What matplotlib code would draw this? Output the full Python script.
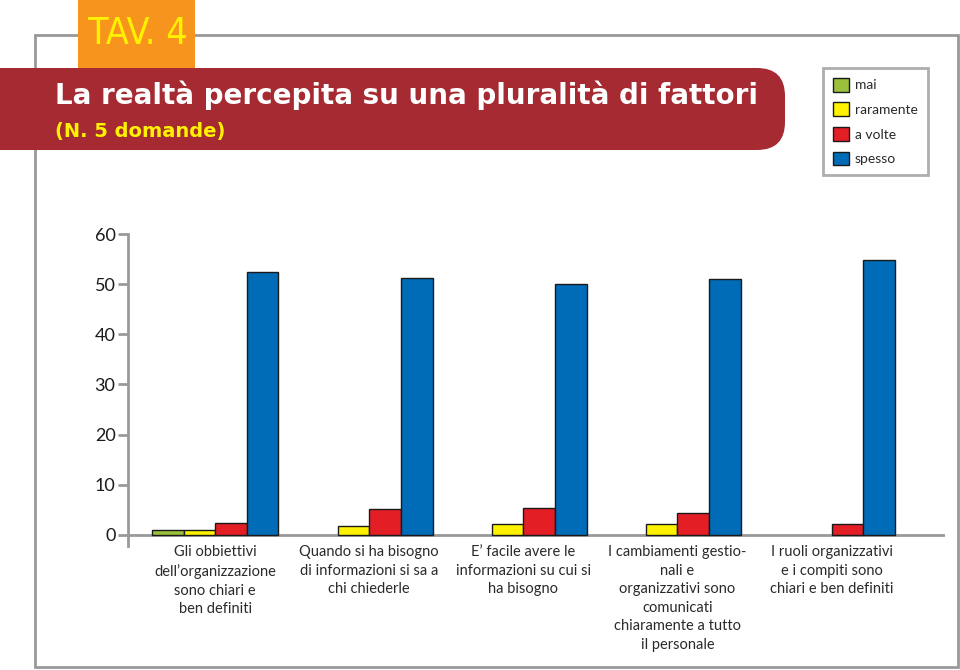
import matplotlib.pyplot as plt
import numpy as np
from matplotlib import font_manager as fm
from matplotlib.patches import Rectangle, FancyBboxPatch, Patch

# dati
categorie = [
    "Gli obbiettivi\ndell\u2019organizzazione\nsono chiari e\nben definiti",
    "Quando si ha bisogno\ndi informazioni si sa a\nchi chiederle",
    "E\u2019 facile avere le\ninformazioni su cui si\nha bisogno",
    "I cambiamenti gestio-\nnali e\norganizzativi sono\ncomunicati\nchiaramente a tutto\nil personale",
    "I ruoli organizzativi\ne i compiti sono\nchiari e ben definiti",
]
mai = [0.9, 0, 0, 0, 0]
raramente = [0.9, 1.8, 2.2, 2.2, 0]
a_volte = [2.3, 5.2, 5.3, 4.3, 2.2]
spesso = [52.5, 51.2, 50.0, 51.0, 54.8]

serie = ['mai', 'raramente', 'a volte', 'spesso']
colori = ['#9bc03c', '#fff200', '#e31e25', '#006cb7']
yticks = [0, 10, 20, 30, 40, 50, 60]

# cerca un font stretto per "TAV. 4"
stretto = None
for f in fm.fontManager.ttflist:
    nome = (f.name + ' ' + f.fname).lower()
    if ('narrow' in nome or 'condensed' in nome) and f.weight in (400, 'normal', 'regular') \
            and f.style == 'normal' and 'mono' not in nome and 'serif' not in f.name.lower():
        stretto = f.fname
        break

W, H = 960, 670
fig = plt.figure(figsize=(9.6, 6.7), dpi=100)

# sfondo in coordinate pixel
bg = fig.add_axes([0, 0, 1, 1], zorder=-1)
bg.set_xlim(0, W)
bg.set_ylim(H, 0)
bg.axis('off')

# cornice grigia
bg.add_patch(Rectangle((35, 35), 923, 632, fill=False, ec='#999999', lw=2))
# box TAV. 4
bg.add_patch(Rectangle((78, 0), 117, 68, fc='#f7941d', ec='none'))
if stretto:
    fp = fm.FontProperties(fname=stretto, size=27)
else:
    fp = fm.FontProperties(family='DejaVu Sans', size=22)
bg.text(138, 34, 'TAV. 4', color='#fff200', fontproperties=fp, ha='center', va='center')
# banda rossa
bg.add_patch(FancyBboxPatch((-60, 68), 845, 82, boxstyle='round,pad=0,rounding_size=28',
                            fc='#a52a32', ec='none'))
bg.text(55, 95, 'La realtà percepita su una pluralità di fattori', color='white',
        fontsize=20, fontweight='bold', va='center', ha='left')
bg.text(55, 132, '(N. 5 domande)', color='#fff200', fontsize=14, fontweight='bold',
        va='center', ha='left')

# grafico
ax = fig.add_axes([128 / W, 1 - 545.5 / H, (945 - 128) / W, (545.5 - 234) / H])
step = 4.875
x = np.arange(len(categorie)) * step
valori = [mai, raramente, a_volte, spesso]
for k, (vals, col) in enumerate(zip(valori, colori)):
    v = np.array(vals)
    m = v > 0
    ax.bar(x[m] + (k - 1.5), v[m], width=1.0, color=col, edgecolor='#1a1a1a', lw=1, zorder=3)

ax.set_xlim(-2.76, 23.09)
ax.set_ylim(-2.1, 60)
ax.axhline(0, color='#999999', lw=2, zorder=2)
for s in ['top', 'right', 'bottom']:
    ax.spines[s].set_visible(False)
ax.spines['left'].set_color('#999999')
ax.spines['left'].set_linewidth(2)
ax.set_yticks(yticks)
ax.tick_params(axis='y', length=7, width=2, color='#999999', labelsize=13,
               labelcolor='#1a1a1a', pad=2)
for t in ax.get_yticklabels():
    t.set_family('Lato')
ax.set_xticks([])
ax.patch.set_alpha(0)

for xi, lab in zip(x, categorie):
    ax.text(xi, -2.0, lab, ha='center', va='top', fontsize=10.5, color='#2a2a2a',
            family='Lato', linespacing=1.42)

# legenda
handles = [Patch(fc=c, ec='#1a1a1a', lw=1) for c in colori]
leg = fig.legend(handles, serie, loc='upper left', bbox_to_anchor=(823 / W, 1 - 68 / H),
                 borderaxespad=0, frameon=True, fancybox=False, handlelength=1.15,
                 handleheight=1.15, labelspacing=0.78, handletextpad=0.45,
                 borderpad=0.7, prop={'family': 'Lato', 'size': 10})
leg.get_frame().set_edgecolor('#999999')
leg.get_frame().set_linewidth(2)
for t in leg.get_texts():
    t.set_color('#2a2a2a')

fig.savefig('out.png', dpi=100)
